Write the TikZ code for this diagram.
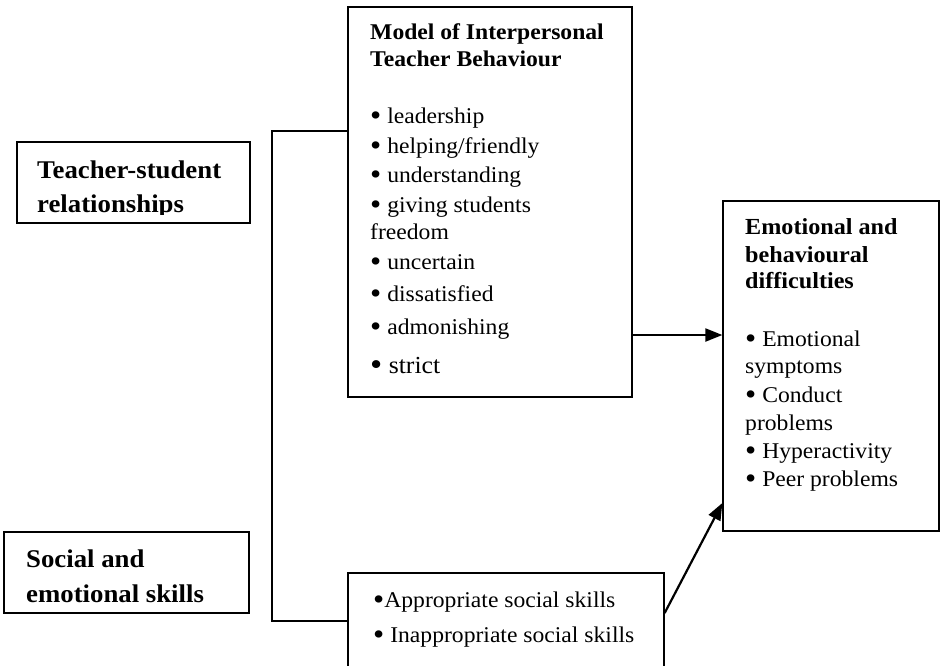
\documentclass[tikz,border=0pt]{standalone}
\usepackage{fontspec}
\setmainfont{Liberation Serif}[FakeStretch=1.05]
\usetikzlibrary{arrows.meta}
\newcommand{\bodyf}{\fontsize{22.5}{26}\selectfont}
\newcommand{\headf}{\fontsize{25.5}{29}\selectfont\bfseries}
\newcommand{\modf}{\fontsize{22.5}{26}\selectfont\bfseries}
\newcommand{\emof}{\fontsize{23}{27}\selectfont\bfseries}
\newcommand{\bul}{\raisebox{-0.12em}{\scalebox{1.35}{•}}}
\begin{document}
\begin{tikzpicture}[x=1pt,y=-1pt,
  box/.style={draw, line width=1.3pt, inner sep=0pt, fill=none},
  txt/.style={anchor=base west, inner sep=0pt, font=\bodyf},
  htxt/.style={anchor=base west, inner sep=0pt, font=\headf},
  mtxt/.style={anchor=base west, inner sep=0pt, font=\modf},
  etxt/.style={anchor=base west, inner sep=0pt, font=\emof},
  link/.style={line width=1.4pt},
  arr/.style={line width=2.2pt, -{Triangle[length=17pt,width=13pt]}}]
\clip (0,0) rectangle (941,665);
\fill[white] (0,0) rectangle (941,665);
% boxes
\node[box, minimum width=233pt, minimum height=81pt] (tsr) at (133.5,182.5) {};
\node[box, minimum width=245pt, minimum height=81pt] (ses) at (126.5,572.5) {};
\node[box, minimum width=284pt, minimum height=390pt] (model) at (490,202) {};
\node[box, minimum width=316pt, minimum height=127pt] (soc) at (506,636.5) {};
\node[box, minimum width=216pt, minimum height=330pt] (ebd) at (831,366) {};
% left box texts
\node[htxt] (t1) at (37,178) {Teacher-student};
\begin{scope}
\clip (18,190) rectangle (249,214);
\node[htxt] (t2) at (37,212) {relationships};
\end{scope}
\node[htxt] (s1) at (26,567) {Social and};
\node[htxt] (s2) at (26,602) {emotional skills};
% model box texts
\node[mtxt] (m1) at (370,39) {Model of Interpersonal};
\node[mtxt] (m2) at (370,66) {Teacher Behaviour};
\node[txt] (m3) at (370,123) {\bul\ leadership};
\node[txt] (m4) at (370,153) {\bul\ helping/friendly};
\node[txt] (m5) at (370,182) {\bul\ understanding};
\node[txt] (m6) at (370,212) {\bul\ giving students};
\node[txt] (m7) at (370,239) {freedom};
\node[txt] (m8) at (370,269) {\bul\ uncertain};
\node[txt] (m9) at (370,301) {\bul\ dissatisfied};
\node[txt] (m10) at (370,334) {\bul\ admonishing};
\node[txt, font=\fontsize{24.5}{28}\selectfont] (m11) at (370,373) {\bul\ strict};
% social skills box texts
\node[txt] (k1) at (373,607) {\bul Appropriate social skills};
\node[txt] (k2) at (373,642) {\bul\ Inappropriate social skills};
% right box texts
\node[etxt] (e1) at (745,234) {Emotional and};
\node[etxt] (e2) at (745,262) {behavioural};
\node[etxt] (e3) at (745,288) {difficulties};
\node[txt] (e4) at (745,346) {\bul\ Emotional};
\node[txt] (e5) at (745,373) {symptoms};
\node[txt] (e6) at (745,402) {\bul\ Conduct};
\node[txt] (e7) at (745,430) {problems};
\node[txt] (e8) at (745,458) {\bul\ Hyperactivity};
\node[txt] (e9) at (745,486) {\bul\ Peer problems};
% bracket connector
\coordinate (b1) at (272,131);
\coordinate (b2) at (272,621);
\draw[link] (model.west |- b1) -- (b1) -- (b2) -- (soc.west |- b2);
% arrows
\coordinate (a1) at (0,335);
\draw[arr] (model.east |- a1) -- (ebd.west |- a1);
\coordinate (c1) at (0,613);
\coordinate (c2) at (0,503);
\draw[arr] (soc.east |- c1) -- (ebd.west |- c2);
\end{tikzpicture}
\end{document}
